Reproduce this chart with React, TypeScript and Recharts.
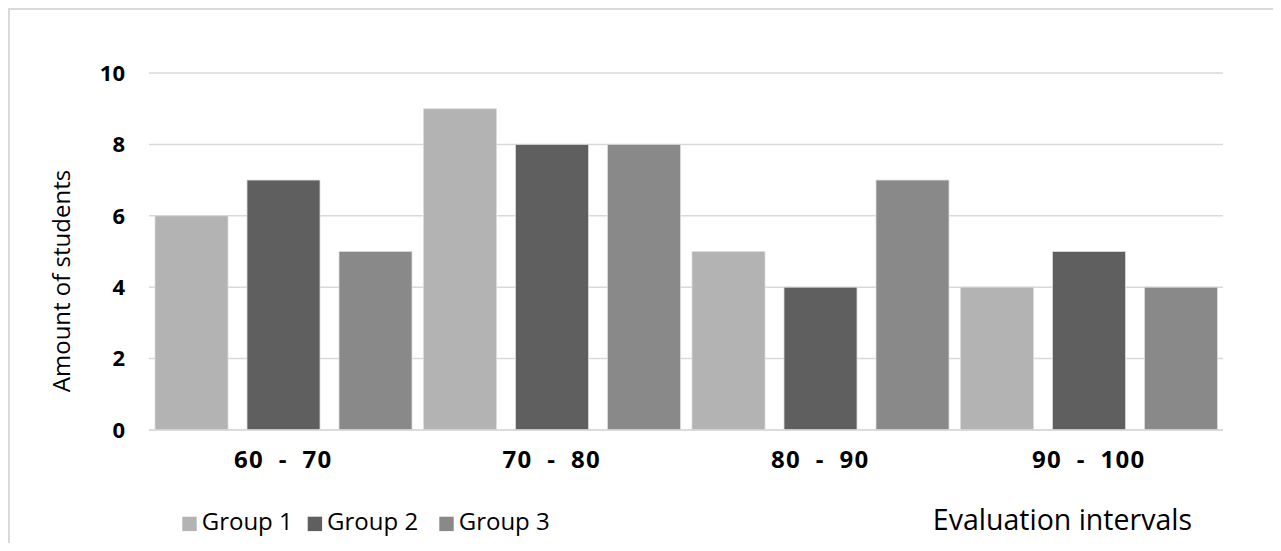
import React from 'react';
import { BarChart, Bar, XAxis, YAxis, CartesianGrid } from 'recharts';

const NB = '\u00a0';
const categories = [`60${NB}${NB}-${NB}${NB}70`, `70${NB}${NB}-${NB}${NB}80`, `80${NB}${NB}-${NB}${NB}90`, `90${NB}${NB}-${NB}${NB}100`];
const group1 = [6, 9, 5, 4];
const group2 = [7, 8, 4, 5];
const group3 = [5, 8, 7, 4];
const yTicks = [0, 2, 4, 6, 8, 10];

const seriesNames = ['Group 1', 'Group 2', 'Group 3'];
const seriesKeys = ['g1', 'g2', 'g3'];
const seriesColors = ['#b3b3b3', '#5f5f5f', '#898989'];

const data = categories.map((c, i) => ({ cat: c, g1: group1[i], g2: group2[i], g3: group3[i] }));

const FONT = "'Open Sans', 'DejaVu Sans', sans-serif";
const W = 1265;
const H = 535;

export default function App() {
  const legendX = [174.3, 299.7, 431.3];
  return (
    <div style={{ position: 'relative', width: W, height: H, overflow: 'hidden', fontFamily: FONT }}>
      <div style={{ position: 'absolute', left: 0, top: 0, width: W, height: H, borderTop: '2px solid #d9d9d9', borderLeft: '2px solid #d9d9d9', boxSizing: 'border-box' }} />
      <div style={{ position: 'absolute', left: 0, top: 0 }}>
        <BarChart width={W} height={H} data={data} margin={{ top: 65, right: 50, left: 81, bottom: 63 }} barCategoryGap={6} barGap={19}>
          <CartesianGrid vertical={false} stroke="#d9d9d9" strokeWidth={1.5} />
          <XAxis dataKey="cat" height={50} tickLine={false} tickSize={0} tickMargin={21} axisLine={{ stroke: '#d9d9d9', strokeWidth: 1.5 }} tick={{ fill: '#000', fontSize: 24, fontWeight: 700, fontFamily: FONT, letterSpacing: 1.2 }} interval={0} />
          <YAxis width={60} domain={[0, 10]} ticks={yTicks} tickLine={false} tickSize={0} tickMargin={24} axisLine={false} tick={{ fill: '#000', fontSize: 22, fontWeight: 700, fontFamily: FONT }} />
          {seriesKeys.map((k, i) => (
            <Bar key={k} dataKey={k} name={seriesNames[i]} fill={seriesColors[i]} stroke="#dcdcdc" strokeWidth={0.8} isAnimationActive={false} />
          ))}
        </BarChart>
      </div>
      <svg style={{ position: 'absolute', left: 0, top: 0 }} width={W} height={H}>
        {seriesNames.map((n, i) => (
          <g key={n}>
            <rect x={legendX[i]} y={508.7} width={14.4} height={14.4} fill={seriesColors[i]} />
            <text x={legendX[i] + 19.4} y={522} fontSize={24} fontFamily={FONT} fill="#000">{n}</text>
          </g>
        ))}
        <text x={1184} y={522} textAnchor="end" fontSize={28.5} fontFamily={FONT} fill="#000">Evaluation intervals</text>
        <text transform="translate(62,273) rotate(-90)" textAnchor="middle" fontSize={24} fontFamily={FONT} fill="#000">Amount of students</text>
      </svg>
    </div>
  );
}
